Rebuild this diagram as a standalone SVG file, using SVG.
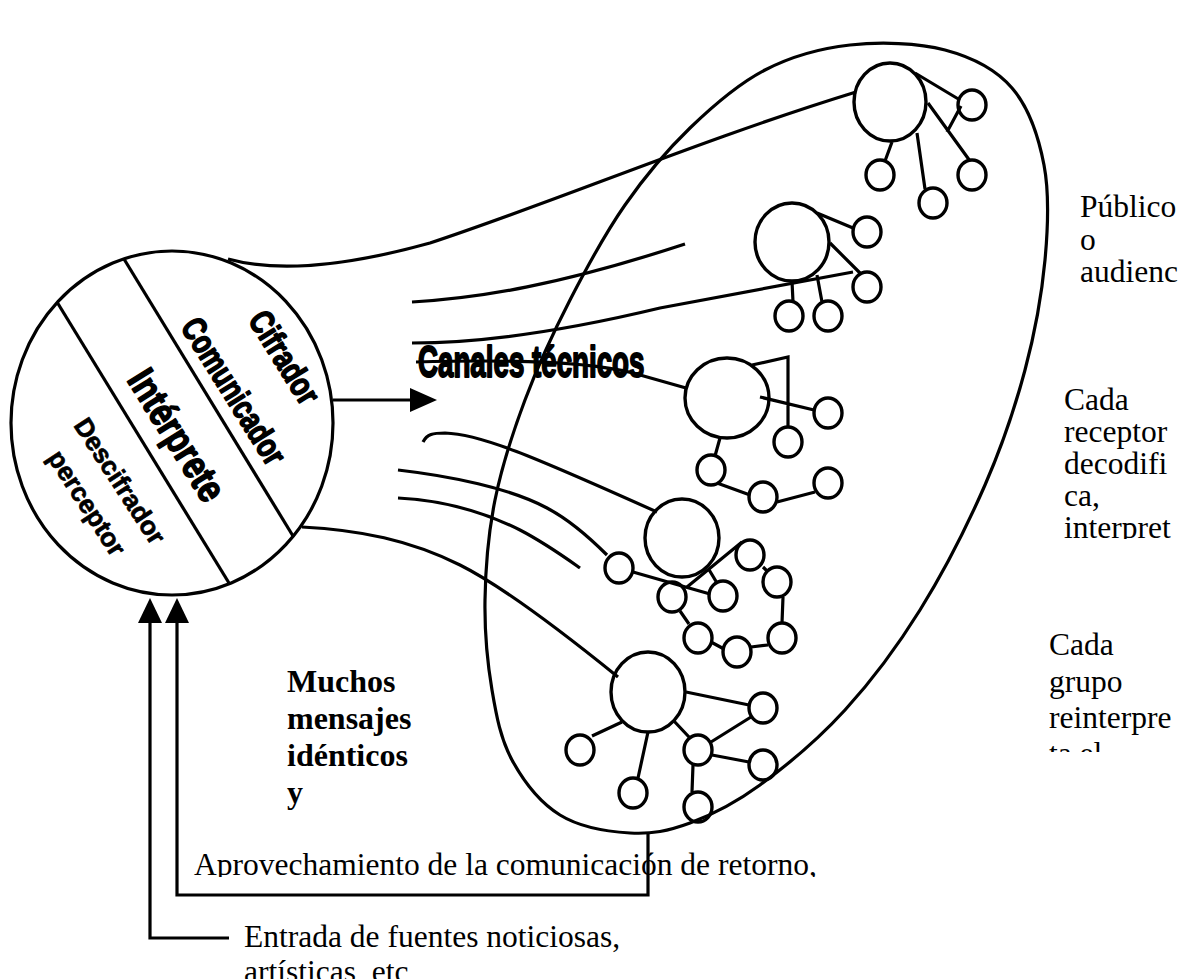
<svg xmlns="http://www.w3.org/2000/svg" width="1194" height="979" viewBox="0 0 1194 979">
<style>
.s{fill:none;stroke:#000;stroke-width:3.2}
.n{fill:none;stroke:#000;stroke-width:3.4}
.t{font-family:"Liberation Serif","Times New Roman",serif;font-size:31.5px;fill:#000}
.bt{font-family:"Liberation Serif","Times New Roman",serif;font-size:32px;font-weight:bold;fill:#000}
.h{font-family:"Liberation Sans",Arial,sans-serif;font-weight:bold;fill:#000}
.k{stroke:#000;stroke-width:1.6;stroke-linejoin:round}
.k2{stroke:#000;stroke-width:0.7;stroke-linejoin:round}
.r{text-anchor:middle;dominant-baseline:central}
</style>
<defs>
<clipPath id="cA"><rect x="0" y="0" width="1194" height="877"/></clipPath>
<clipPath id="cB"><rect x="0" y="0" width="1194" height="539"/></clipPath>
<clipPath id="cC"><rect x="0" y="0" width="1194" height="752"/></clipPath>
</defs>
<rect width="1194" height="979" fill="#fff"/>

<g id="audience">
<path class="s" d="M850,45 C880,41.7 918,42.8 945,50 C972,57.2 995.5,68.8 1012,88 C1028.5,107.2 1038.5,136.3 1044,165 C1049.5,193.7 1048.2,225.8 1045,260 C1041.8,294.2 1035,332.5 1025,370 C1015,407.5 1002.5,445 985,485 C967.5,525 943.3,572.5 920,610 C896.7,647.5 871.7,680.8 845,710 C818.3,739.2 785.8,766.2 760,785 C734.2,803.8 711.7,815 690,823 C668.3,831 651.7,834.3 630,833 C608.3,831.7 579.7,827.2 560,815 C540.3,802.8 523.3,780.8 512,760 C500.7,739.2 496.5,716.7 492,690 C487.5,663.3 484.5,631.7 485,600 C485.5,568.3 488.3,533.3 495,500 C501.7,466.7 512.5,433.3 525,400 C537.5,366.7 553.3,332.5 570,300 C586.7,267.5 605,233.7 625,205 C645,176.3 666.7,150.5 690,128 C713.3,105.5 738.3,83.8 765,70 C791.7,56.2 820,48.3 850,45 Z"/>
</g>

<g id="sender">
<ellipse class="s" cx="172" cy="423" rx="161" ry="172"/>
<line class="s" x1="124" y1="259" x2="293" y2="536"/>
<line class="s" x1="57" y1="302" x2="229" y2="583"/>
<text class="h r k" font-size="34" transform="translate(285,357) rotate(58) scale(0.78,1)">Cifrador</text>
<text class="h r k" font-size="34" transform="translate(234,391) rotate(58) scale(0.76,1)">Comunicador</text>
<text class="h r k" font-size="40" transform="translate(177,435) rotate(58) scale(0.8,1)">Intérprete</text>
<text class="h r k2" font-size="26" transform="translate(120,481) rotate(57)">Descifrador</text>
<text class="h r k2" font-size="26" transform="translate(87,503) rotate(57)">perceptor</text>
</g>

<g id="connectors">
<path class="s" d="M228,259 C275,272 340,268 430,243 C560,200 700,140 856,92"/>
<path class="s" d="M412,302 C480,298 560,285 685,244"/>
<path class="s" d="M412,343 C480,343 560,332 660,308 L853,272"/>
<path class="s" d="M416,362 C520,359 590,362 633,373 L686,388"/>
<path class="s" d="M423,442 C427,434 433,433 445,433 C480,434 530,455 657,512"/>
<path class="s" d="M398,470 C450,476 510,488 547,508 C570,520 590,538 607,555"/>
<path class="s" d="M398,498 C440,500 480,510 520,530 C545,543 563,556 580,568"/>
<path class="s" d="M302,527 C360,530 410,540 460,565 C500,585 560,630 618,677"/>
<path class="s" d="M333,400 H414"/>
<polygon points="410,388 437,400 410,412" fill="#000"/>
<path class="s" d="M150,620 V938 H229"/>
<path class="s" d="M177,620 V895 H648 V833"/>
<polygon points="150,598 138,623 162,623" fill="#000"/>
<polygon points="177,598 165,623 189,623" fill="#000"/>
</g>

<g id="group1">
<ellipse class="n" cx="890" cy="102" rx="36" ry="39"/>
<ellipse class="n" cx="972" cy="105" rx="14" ry="15"/>
<ellipse class="n" cx="880" cy="175" rx="14" ry="15"/>
<ellipse class="n" cx="933" cy="203" rx="14" ry="15"/>
<ellipse class="n" cx="972" cy="175" rx="14" ry="15"/>
<path class="s" d="M915,73 L960,100 M947,132 L961,106 M928,103 L970,161 M892,142 L885,161 M917,133 L925,189"/>
</g>

<g id="group2">
<ellipse class="n" cx="792" cy="242" rx="37" ry="39"/>
<ellipse class="n" cx="867" cy="232" rx="14" ry="15"/>
<ellipse class="n" cx="867" cy="287" rx="14" ry="15"/>
<ellipse class="n" cx="789" cy="316" rx="14" ry="15"/>
<ellipse class="n" cx="828" cy="316" rx="14" ry="15"/>
<path class="s" d="M817,213 L853,228 M830,243 L860,273 M792,281 L793,302 M817,275 L822,302"/>
</g>

<g id="group3">
<ellipse class="n" cx="727" cy="398" rx="42" ry="40"/>
<ellipse class="n" cx="828" cy="413" rx="14" ry="15"/>
<ellipse class="n" cx="788" cy="442" rx="14" ry="15"/>
<ellipse class="n" cx="711" cy="470" rx="14" ry="15"/>
<ellipse class="n" cx="763" cy="497" rx="14" ry="15"/>
<ellipse class="n" cx="828" cy="483" rx="14" ry="15"/>
<path class="s" d="M752,365 L788,357 L788,428 M760,397 L814,410 M720,438 L715,456 M717,483 L750,495 M777,502 L815,492"/>
</g>

<g id="group4">
<ellipse class="n" cx="682" cy="538" rx="37" ry="39"/>
<ellipse class="n" cx="619" cy="568" rx="14" ry="15"/>
<ellipse class="n" cx="672" cy="597" rx="14" ry="15"/>
<ellipse class="n" cx="723" cy="596" rx="14" ry="15"/>
<ellipse class="n" cx="750" cy="555" rx="14" ry="15"/>
<ellipse class="n" cx="777" cy="582" rx="14" ry="15"/>
<ellipse class="n" cx="782" cy="638" rx="14" ry="15"/>
<ellipse class="n" cx="737" cy="652" rx="14" ry="15"/>
<ellipse class="n" cx="698" cy="638" rx="14" ry="15"/>
<path class="s" d="M633,572 L710,594 M687,587 L742,542 M708,568 L717,583 M763,567 L768,572 M783,597 L782,623 M768,645 L751,647 M711,642 L724,649 M680,611 L689,624"/>
</g>

<g id="group5">
<ellipse class="n" cx="648" cy="692" rx="37" ry="40"/>
<ellipse class="n" cx="580" cy="750" rx="14" ry="15"/>
<ellipse class="n" cx="633" cy="793" rx="14" ry="15"/>
<ellipse class="n" cx="698" cy="750" rx="14" ry="15"/>
<ellipse class="n" cx="763" cy="708" rx="14" ry="15"/>
<ellipse class="n" cx="763" cy="765" rx="14" ry="15"/>
<ellipse class="n" cx="698" cy="807" rx="14" ry="15"/>
<path class="s" d="M622,722 L592,736 M648,732 L638,778 M673,720 L689,737 M686,692 L749,705 M711,742 L751,717 M712,755 L749,762 M693,765 L692,792"/>
</g>

<g id="labels">
<text class="h" font-size="44" stroke="#000" stroke-width="2" stroke-linejoin="round" transform="translate(418,377) scale(0.63,1)">Canales técnicos</text>
<text class="bt" x="287" y="692">Muchos</text>
<text class="bt" x="287" y="729">mensajes</text>
<text class="bt" x="287" y="766">idénticos</text>
<text class="bt" x="287" y="803">y</text>
<text class="t" font-size="32" x="194" y="875" clip-path="url(#cA)">Aprovechamiento de la comunicación de retorno,</text>
<text class="t" font-size="32" x="244" y="947">Entrada de fuentes noticiosas,</text>
<text class="t" font-size="32" x="244" y="982">artísticas, etc</text>
<text class="t" x="1080" y="217">Público</text>
<text class="t" x="1080" y="250">o</text>
<text class="t" x="1080" y="282">audienc</text>
<text class="t" x="1064" y="410">Cada</text>
<text class="t" x="1064" y="442">receptor</text>
<text class="t" x="1064" y="474">decodifi</text>
<text class="t" x="1064" y="506">ca,</text>
<text class="t" x="1064" y="538" clip-path="url(#cB)">interpret</text>
<text class="t" x="1049" y="655">Cada</text>
<text class="t" x="1049" y="692">grupo</text>
<text class="t" x="1049" y="728">reinterpre</text>
<text class="t" x="1049" y="764" clip-path="url(#cC)">ta el</text>
</g>
</svg>
